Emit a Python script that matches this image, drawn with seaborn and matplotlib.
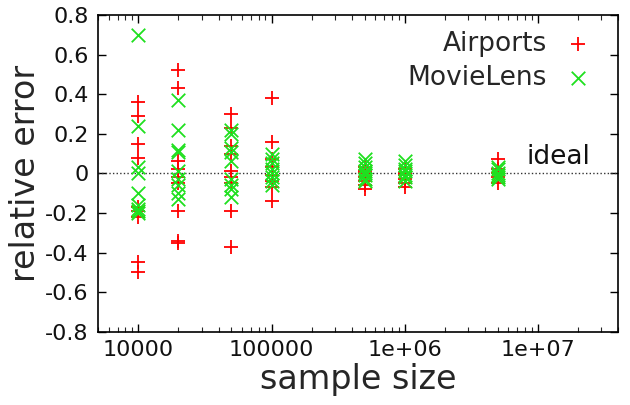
import numpy as np
import pandas as pd
import matplotlib
matplotlib.use("Agg")
import matplotlib.pyplot as plt
import seaborn as sns
from matplotlib.ticker import FixedLocator, FixedFormatter, LogLocator, NullFormatter

# ---- data ----
sizes = [10000, 20000, 50000, 100000, 500000, 1000000, 5000000]

airports = {
    10000:   [0.36, 0.29, 0.15, 0.08, -0.17, -0.19, -0.22, -0.45, -0.50],
    20000:   [0.52, 0.43, 0.06, 0.02, -0.02, -0.05, -0.19, -0.35, -0.34],
    50000:   [0.30, 0.23, 0.14, 0.10, 0.01, -0.02, -0.05, -0.19, -0.37],
    100000:  [0.38, 0.16, 0.07, 0.03, -0.01, -0.04, -0.07, -0.14],
    500000:  [0.03, 0.01, 0.00, -0.02, -0.04, -0.06, -0.08],
    1000000: [0.02, 0.00, -0.01, -0.03, -0.05, -0.07],
    5000000: [0.07, 0.02, 0.00, -0.02, -0.05],
}
movielens = {
    10000:   [0.70, 0.24, 0.03, 0.00, -0.10, -0.16, -0.18, -0.19, -0.20],
    20000:   [0.37, 0.22, 0.12, 0.11, 0.01, -0.03, -0.06, -0.10, -0.13],
    50000:   [0.22, 0.20, 0.13, 0.11, 0.06, -0.03, -0.06, -0.08, -0.12],
    100000:  [0.10, 0.07, 0.05, 0.02, 0.00, -0.02, -0.04, -0.06],
    500000:  [0.07, 0.05, 0.03, 0.01, 0.00, -0.01, -0.03, -0.04],
    1000000: [0.06, 0.04, 0.02, 0.01, -0.01, -0.02, -0.04],
    5000000: [0.03, 0.02, 0.00, -0.01, -0.02, -0.03],
}

series_names = ["Airports", "MovieLens"]
ytick_vals = [-0.8, -0.6, -0.4, -0.2, 0, 0.2, 0.4, 0.6, 0.8]
ytick_labels = ["-0.8", "-0.6", "-0.4", "-0.2", "0", "0.2", "0.4", "0.6", "0.8"]
xtick_vals = [1e4, 1e5, 1e6, 1e7]
xtick_labels = ["10000", "100000", "1e+06", "1e+07"]

rows = []
for name, d in zip(series_names, [airports, movielens]):
    for s in sizes:
        for v in d[s]:
            rows.append({"size": s, "err": v, "dataset": name})
df = pd.DataFrame(rows)

sns.set_theme(style="ticks")
plt.rcParams["font.family"] = ["DejaVu Sans"]

fig = plt.figure(figsize=(6.3, 4.05), dpi=100)
ax = fig.add_axes([0.156, 0.181, 0.825, 0.782])

ax.axhline(0, color="#333333", lw=1.0, ls=(0, (1, 1.6)), zorder=1)

colors = {"Airports": "#ff0000", "MovieLens": "#1fe01f"}
markers = {"Airports": "+", "MovieLens": "x"}
for name in series_names:
    sub = df[df["dataset"] == name]
    sns.scatterplot(data=sub, x="size", y="err", ax=ax, marker=markers[name],
                    color=colors[name], s=95, linewidth=1.3, label=name, zorder=3)

ax.set_xscale("log")
ax.set_xlim(5000, 4e7)
ax.set_ylim(-0.8, 0.8)

ax.xaxis.set_major_locator(FixedLocator(xtick_vals))
ax.xaxis.set_major_formatter(FixedFormatter(xtick_labels))
ax.xaxis.set_minor_locator(LogLocator(base=10, subs=np.arange(2, 10)))
ax.xaxis.set_minor_formatter(NullFormatter())
ax.yaxis.set_major_locator(FixedLocator(ytick_vals))
ax.yaxis.set_major_formatter(FixedFormatter(ytick_labels))

ax.tick_params(axis="both", which="major", direction="in", length=6, width=1,
               top=True, right=True, labelsize=16, colors="black", labelcolor="#111111")
ax.tick_params(axis="x", which="minor", direction="in", length=3.5, width=0.8,
               top=True, bottom=True)
ax.tick_params(axis="y", pad=7)
ax.tick_params(axis="x", pad=6)
for sp in ax.spines.values():
    sp.set_color("black")
    sp.set_linewidth(1.2)

ax.set_xlabel("sample size", fontsize=24, labelpad=2)
ax.set_ylabel("relative error", fontsize=24, labelpad=2)

ax.text(2.5e7, 0.082, "ideal", fontsize=19, ha="right", va="center", color="#111111")

leg = ax.legend(loc="upper right", bbox_to_anchor=(0.983, 1.0), markerfirst=False,
                frameon=False, fontsize=19, handletextpad=0.55, labelspacing=0.3,
                borderaxespad=0.2, handlelength=1.2)

fig.savefig("out.png", dpi=100)
